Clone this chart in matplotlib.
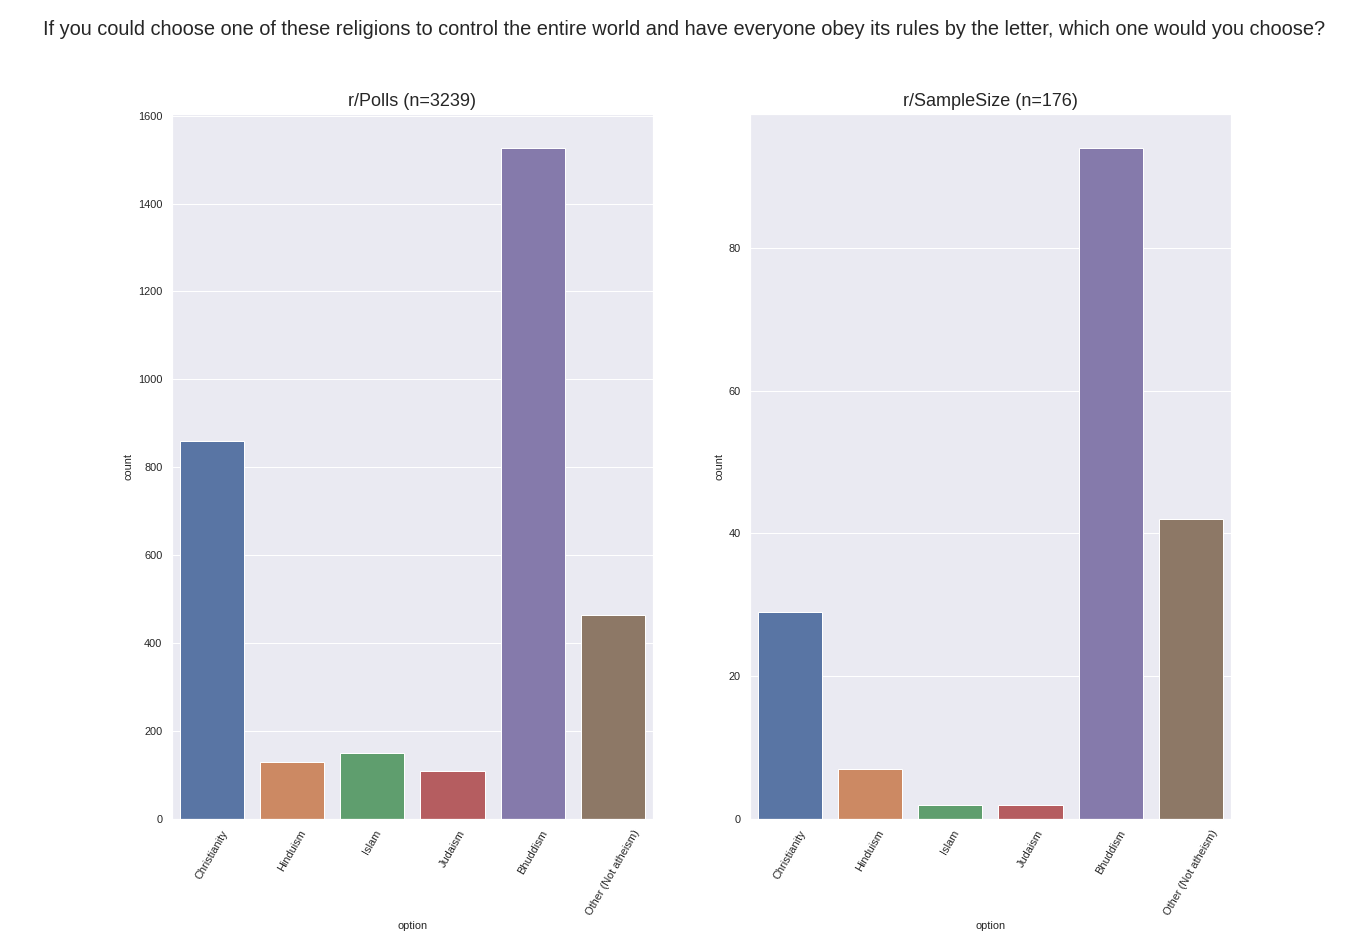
import matplotlib
matplotlib.use("Agg")
import matplotlib.pyplot as plt
import seaborn as sns
import numpy as np

# ── Data ─────────────────────────────────────────────────────────────────────
options = ["Christianity", "Hinduism", "Islam", "Judaism", "Bhuddism",
           "Other (Not atheism)"]
polls_counts = [859, 130, 150, 109, 1527, 464]
samplesize_counts = [29, 7, 2, 2, 94, 42]
titles = ["r/Polls (n=3239)", "r/SampleSize (n=176)"]
suptitle = ("If you could choose one of these religions to control the entire world "
            "and have everyone obey its rules by the letter, which one would you choose?")

sns.set_theme(style="darkgrid")
plt.rcParams["font.family"] = ["Liberation Sans", "DejaVu Sans"]

# countplot-style desaturated "deep" palette
colors = [sns.desaturate(c, 0.75) for c in sns.color_palette("deep", len(options))]

fig = plt.figure(figsize=(19, 13), dpi=72)
ax1 = fig.add_axes([0.1257, 0.125, 0.3516, 0.753])
ax2 = fig.add_axes([0.5482, 0.125, 0.3516, 0.753])

x = np.arange(len(options))
for ax, counts, title in zip([ax1, ax2], [polls_counts, samplesize_counts], titles):
    ax.bar(x, counts, width=0.8, color=colors, edgecolor="white", linewidth=1)
    ax.set_xlim(-0.5, len(options) - 0.5)
    ax.set_xticks(x)
    ax.set_xticklabels(options, rotation=60, fontsize=11)
    ax.tick_params(axis="y", labelsize=11)
    ax.set_xlabel("option", fontsize=11)
    ax.set_ylabel("count", fontsize=11)
    ax.set_title(title, fontsize=18, pad=8)
    ax.grid(axis="x", visible=False)

fig.suptitle(suptitle, fontsize=20, y=0.979)

fig.savefig("out.png", dpi=72)
